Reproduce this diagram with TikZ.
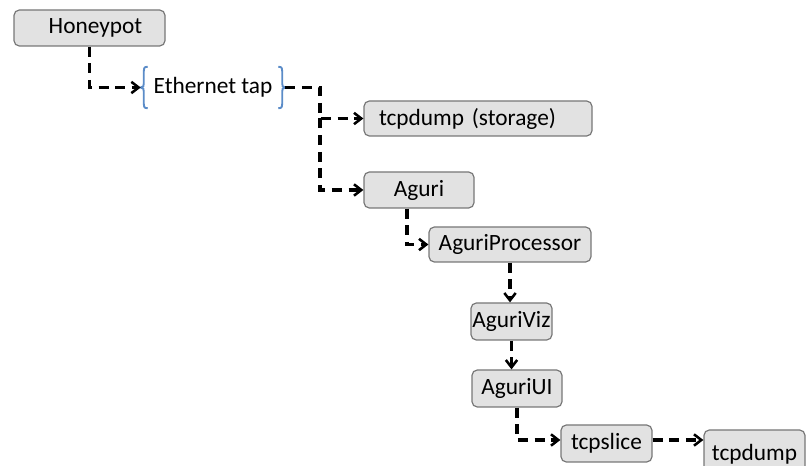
\documentclass[tikz,border=0pt]{standalone}
\usepackage{fontspec}
\setmainfont{Carlito}
\usetikzlibrary{arrows.meta,calc}
\definecolor{boxfill}{RGB}{226,226,226}
\definecolor{boxline}{RGB}{120,120,120}
\definecolor{braceblue}{RGB}{91,140,200}
\tikzset{
  box/.style={draw=boxline, line width=0.9pt, fill=boxfill, rounded corners=4pt,
    inner sep=0pt, font=\fontsize{17.5}{20}\selectfont},
  plain/.style={inner sep=0pt, font=\fontsize{17.5}{20}\selectfont},
  arr/.style={line width=2.4pt, dash pattern=on 7.5pt off 5pt,
    -{Straight Barb[length=5.5pt,width=8.5pt,line width=1.9pt]}},
  brc/.style={draw=braceblue, line width=1.4pt}
}
\begin{document}
\begin{tikzpicture}[x=0.75pt,y=-0.75pt]
\useasboundingbox (0,0) rectangle (808,466);
\clip (0,0) rectangle (808,466);
\node[box, minimum width=151*0.75pt, minimum height=36*0.75pt] (hp) at (89.5,28) {\hspace*{9pt}Honeypot};
\node[plain, minimum width=144*0.75pt, minimum height=41*0.75pt] (eth) at (213,87.5) {Ethernet tap};
\node[box, minimum width=228*0.75pt, minimum height=35*0.75pt, text width=198*0.75pt, align=left] (st) at (478,118.5) {tcpdump (storage)};
\node[box, minimum width=110*0.75pt, minimum height=36*0.75pt] (ag) at (419,190) {Aguri};
\node[box, minimum width=162*0.75pt, minimum height=35*0.75pt] (ap) at (510,244.5) {AguriProcessor};
\node[box, minimum width=81*0.75pt, minimum height=37*0.75pt] (av) at (511.5,321.5) {AguriViz};
\node[box, minimum width=90*0.75pt, minimum height=37*0.75pt] (au) at (517,388.5) {AguriUI};
\node[box, minimum width=91*0.75pt, minimum height=37*0.75pt] (ts) at (606.5,443.5) {tcpslice};
\node[box, minimum width=101*0.75pt, minimum height=44*0.75pt, text depth=0pt] (td) at (754.5,452) {tcpdump};
% braces around Ethernet tap
\draw[brc] ($(eth.north west)+(7,0)$) .. controls ($(eth.north west)+(3,0)$) and ($(eth.north west)+(3,2)$) .. ($(eth.north west)+(3,5)$)
  -- ($(eth.west)+(3,-4)$) .. controls ($(eth.west)+(3,-1)$) .. ($(eth.west)+(0,0)$)
  .. controls ($(eth.west)+(3,1)$) .. ($(eth.west)+(3,4)$)
  -- ($(eth.south west)+(3,-5)$) .. controls ($(eth.south west)+(3,-2)$) and ($(eth.south west)+(3,0)$) .. ($(eth.south west)+(7,0)$);
\draw[brc] ($(eth.north east)+(-7,0)$) .. controls ($(eth.north east)+(-3,0)$) and ($(eth.north east)+(-3,2)$) .. ($(eth.north east)+(-3,5)$)
  -- ($(eth.east)+(-3,-4)$) .. controls ($(eth.east)+(-3,-1)$) .. ($(eth.east)+(0,0)$)
  .. controls ($(eth.east)+(-3,1)$) .. ($(eth.east)+(-3,4)$)
  -- ($(eth.south east)+(-3,-5)$) .. controls ($(eth.south east)+(-3,-2)$) and ($(eth.south east)+(-3,0)$) .. ($(eth.south east)+(-7,0)$);
% connectors
\coordinate (bus) at (320,87.5);
\coordinate (agin) at ($(ag.south)+(-12,0)$);
\coordinate (tsout) at ($(ts.east)+(0,-3.5)$);
\coordinate (tsin) at ($(ts.west)+(0,-3.5)$);
\draw[arr] (hp.south) |- (eth.west);
\draw[arr] (eth.east) -- (bus) |- (st.west);
\draw[arr] (bus |- st.west) |- (ag.west);
\draw[arr] (agin) |- (ap.west);
\draw[arr] (ap.south) -- (ap.south |- av.north);
\draw[arr] (av.south) -- (av.south |- au.north);
\draw[arr] (au.south) |- (tsin);
\draw[arr] (tsout) -- (tsout -| td.west);
\end{tikzpicture}
\end{document}
